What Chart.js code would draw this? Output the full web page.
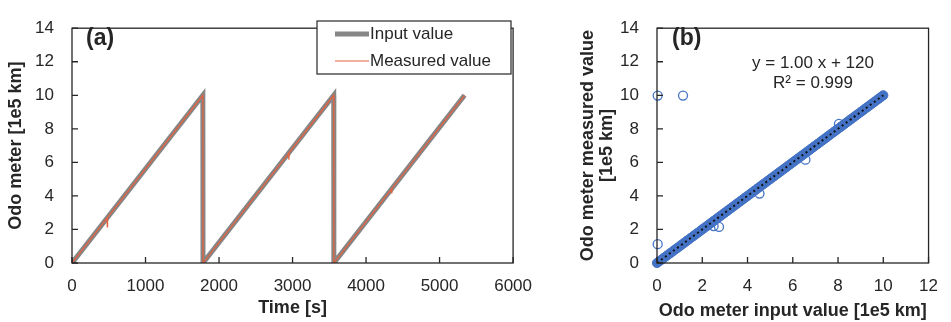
<!DOCTYPE html>
<html>
<head>
<meta charset="utf-8">
<script src="https://cdn.jsdelivr.net/npm/chart.js@4.4.0/dist/chart.umd.min.js"></script>
<style>
  html, body { margin: 0; padding: 0; background: #fff; }
  #wrap { position: relative; width: 951px; height: 322px; }
  #chartA { position: absolute; left: 0; top: 0; width: 545px; height: 322px; }
  #chartB { position: absolute; left: 560px; top: 0; width: 391px; height: 322px; }
</style>
</head>
<body>
<div id="wrap">
  <canvas id="chartA" width="545" height="322"></canvas>
  <canvas id="chartB" width="391" height="322"></canvas>
</div>
<script>
// panel (a): odometer vs time
const inputTime = [0, 1780, 1782, 3560, 3562, 5340];
const inputOdo = [0, 10, 0, 10, 0, 10];
const measuredTime = [0, 476, 480, 484, 1780, 1782, 2946, 2950, 2954, 3560, 3562, 4346, 4350, 4354, 5340];
const measuredOdo = [0, 2.67, 2.15, 2.72, 10, 0, 6.53, 6.16, 6.57, 10, 0, 4.4, 4.14, 4.45, 10];

// panel (b): measured vs input
const bandInput = [0, 0.1, 0.2, 0.3, 0.4, 0.5, 0.6, 0.7, 0.8, 0.9, 1, 1.1, 1.2, 1.3, 1.4, 1.5, 1.6, 1.7, 1.8, 1.9,
  2, 2.1, 2.2, 2.3, 2.4, 2.5, 2.6, 2.7, 2.8, 2.9, 3, 3.1, 3.2, 3.3, 3.4, 3.5, 3.6, 3.7, 3.8, 3.9,
  4, 4.1, 4.2, 4.3, 4.4, 4.5, 4.6, 4.7, 4.8, 4.9, 5, 5.1, 5.2, 5.3, 5.4, 5.5, 5.6, 5.7, 5.8, 5.9,
  6, 6.1, 6.2, 6.3, 6.4, 6.5, 6.6, 6.7, 6.8, 6.9, 7, 7.1, 7.2, 7.3, 7.4, 7.5, 7.6, 7.7, 7.8, 7.9,
  8, 8.1, 8.2, 8.3, 8.4, 8.5, 8.6, 8.7, 8.8, 8.9, 9, 9.1, 9.2, 9.3, 9.4, 9.5, 9.6, 9.7, 9.8, 9.9, 10];
const bandMeasured = [0, 0.1, 0.2, 0.3, 0.4, 0.5, 0.6, 0.7, 0.8, 0.9, 1, 1.1, 1.2, 1.3, 1.4, 1.5, 1.6, 1.7, 1.8, 1.9,
  2, 2.1, 2.2, 2.3, 2.4, 2.5, 2.6, 2.7, 2.8, 2.9, 3, 3.1, 3.2, 3.3, 3.4, 3.5, 3.6, 3.7, 3.8, 3.9,
  4, 4.1, 4.2, 4.3, 4.4, 4.5, 4.6, 4.7, 4.8, 4.9, 5, 5.1, 5.2, 5.3, 5.4, 5.5, 5.6, 5.7, 5.8, 5.9,
  6, 6.1, 6.2, 6.3, 6.4, 6.5, 6.6, 6.7, 6.8, 6.9, 7, 7.1, 7.2, 7.3, 7.4, 7.5, 7.6, 7.7, 7.8, 7.9,
  8, 8.1, 8.2, 8.3, 8.4, 8.5, 8.6, 8.7, 8.8, 8.9, 9, 9.1, 9.2, 9.3, 9.4, 9.5, 9.6, 9.7, 9.8, 9.9, 10];
const outlierInput = [0.03, 1.15, 0.03, 2.5, 2.74, 4.53, 6.56, 8.04];
const outlierMeasured = [9.98, 9.98, 1.12, 2.2, 2.15, 4.14, 6.16, 8.3];
const trendInput = [0, 10];
const trendMeasured = [0.0012, 10.0012];

const FONT = "'Liberation Sans', Arial, sans-serif";
const INK = '#262626';
const GRAY = '#868686';
const RED = '#e8603c';
const BLUE = '#4472c4';

const pairs = (xs, ys) => xs.map((x, i) => ({ x, y: ys[i] }));

// box round the plot area and inward tick marks
const frameTicks = {
  id: 'frameTicks',
  afterDatasetsDraw(chart) {
    const { ctx, chartArea: a, scales } = chart;
    ctx.save();
    ctx.strokeStyle = INK;
    ctx.lineWidth = 1.3;
    ctx.strokeRect(a.left, a.top, a.right - a.left, a.bottom - a.top);
    ctx.beginPath();
    scales.x.ticks.forEach(t => {
      const px = scales.x.getPixelForValue(t.value);
      ctx.moveTo(px, a.bottom);
      ctx.lineTo(px, a.bottom - 6);
    });
    scales.y.ticks.forEach(t => {
      const py = scales.y.getPixelForValue(t.value);
      ctx.moveTo(a.left, py);
      ctx.lineTo(a.left + 6, py);
    });
    ctx.stroke();
    ctx.restore();
  }
};

function axes(xMax, yWidth, xTitle, yTitle, yTitlePad, xTitleBottom) {
  return {
    x: {
      type: 'linear', min: 0, max: xMax,
      grid: { display: false, drawTicks: false },
      border: { display: false },
      ticks: { stepSize: xMax / 6, padding: 13, color: INK, font: { family: FONT, size: 17 }, callback: v => String(v) },
      title: { display: true, text: xTitle, color: INK, padding: { top: 2, bottom: xTitleBottom }, font: { family: FONT, size: 18, weight: 'bold' } },
      afterFit(s) { s.height = 59; }
    },
    y: {
      min: 0, max: 14,
      grid: { display: false, drawTicks: false },
      border: { display: false },
      ticks: { stepSize: 2, padding: 18, color: INK, font: { family: FONT, size: 17 }, callback: v => String(v) },
      title: { display: true, text: yTitle, color: INK, padding: { top: yTitlePad, bottom: 0 }, font: { family: FONT, size: 18, weight: 'bold', lineHeight: 1.05 } },
      afterFit(s) { s.width = yWidth; }
    }
  };
}

const panelA = {
  id: 'panelA',
  afterDraw(chart) {
    const ctx = chart.ctx;
    ctx.save();
    ctx.fillStyle = INK;
    ctx.textBaseline = 'middle';
    ctx.font = `bold 23px ${FONT}`;
    ctx.fillText('(a)', 86, 39);
    // legend box
    ctx.fillStyle = '#fff';
    ctx.fillRect(317, 21, 194, 53);
    ctx.strokeStyle = INK;
    ctx.lineWidth = 1.2;
    ctx.strokeRect(317, 21, 194, 53);
    const ds = chart.data.datasets;
    [[ds[0], 34], [ds[1], 61]].forEach(([d, y]) => {
      ctx.strokeStyle = d.borderColor;
      ctx.lineWidth = d.borderWidth;
      ctx.beginPath();
      ctx.moveTo(335, y);
      ctx.lineTo(369, y);
      ctx.stroke();
      ctx.fillStyle = INK;
      ctx.font = `17px ${FONT}`;
      ctx.fillText(d.label, 370, y);
    });
    ctx.restore();
  }
};

new Chart(document.getElementById('chartA').getContext('2d'), {
  type: 'line',
  data: {
    datasets: [
      { label: 'Input value', data: pairs(inputTime, inputOdo), borderColor: GRAY, borderWidth: 5, pointRadius: 0, tension: 0, order: 1 },
      { label: 'Measured value', data: pairs(measuredTime, measuredOdo), borderColor: RED, borderWidth: 1.2, pointRadius: 0, tension: 0, order: 0 }
    ]
  },
  options: {
    responsive: false,
    animation: false,
    events: [],
    layout: { padding: { top: 16, right: 29, left: 0, bottom: 0 } },
    scales: axes(6000, 72, 'Time [s]', 'Odo meter [1e5 km]', 7, 3),
    plugins: { legend: { display: false }, tooltip: { enabled: false } }
  },
  plugins: [frameTicks, panelA]
});

const panelB = {
  id: 'panelB',
  afterDraw(chart) {
    const ctx = chart.ctx;
    ctx.save();
    ctx.fillStyle = INK;
    ctx.textBaseline = 'middle';
    ctx.font = `bold 23px ${FONT}`;
    ctx.fillText('(b)', 112, 39);
    ctx.textAlign = 'center';
    ctx.font = `17px ${FONT}`;
    ctx.fillText('y = 1.00 x + 120', 253, 63);
    ctx.fillText('R\u00b2 = 0.999', 253, 83);
    ctx.restore();
  }
};

new Chart(document.getElementById('chartB').getContext('2d'), {
  type: 'scatter',
  data: {
    datasets: [
      { label: 'Band', data: pairs(bandInput, bandMeasured), borderColor: BLUE, backgroundColor: BLUE, borderWidth: 1, pointRadius: 4.6, clip: false, order: 2 },
      { label: 'Outliers', data: pairs(outlierInput, outlierMeasured), borderColor: BLUE, backgroundColor: 'rgba(0,0,0,0)', borderWidth: 1.3, pointRadius: 4.5, clip: false, order: 1 },
      { label: 'Trend', type: 'line', data: pairs(trendInput, trendMeasured), borderColor: '#111', borderWidth: 2, borderDash: [2, 3], pointRadius: 0, order: 0 }
    ]
  },
  options: {
    responsive: false,
    animation: false,
    events: [],
    layout: { padding: { top: 16, right: 11, left: 0, bottom: 0 } },
    scales: axes(12, 97, 'Odo meter input value [1e5 km]', ['Odo meter measured value', '[1e5 km]'], 19, 0),
    plugins: { legend: { display: false }, tooltip: { enabled: false } }
  },
  plugins: [frameTicks, panelB]
});
</script>
</body>
</html>
